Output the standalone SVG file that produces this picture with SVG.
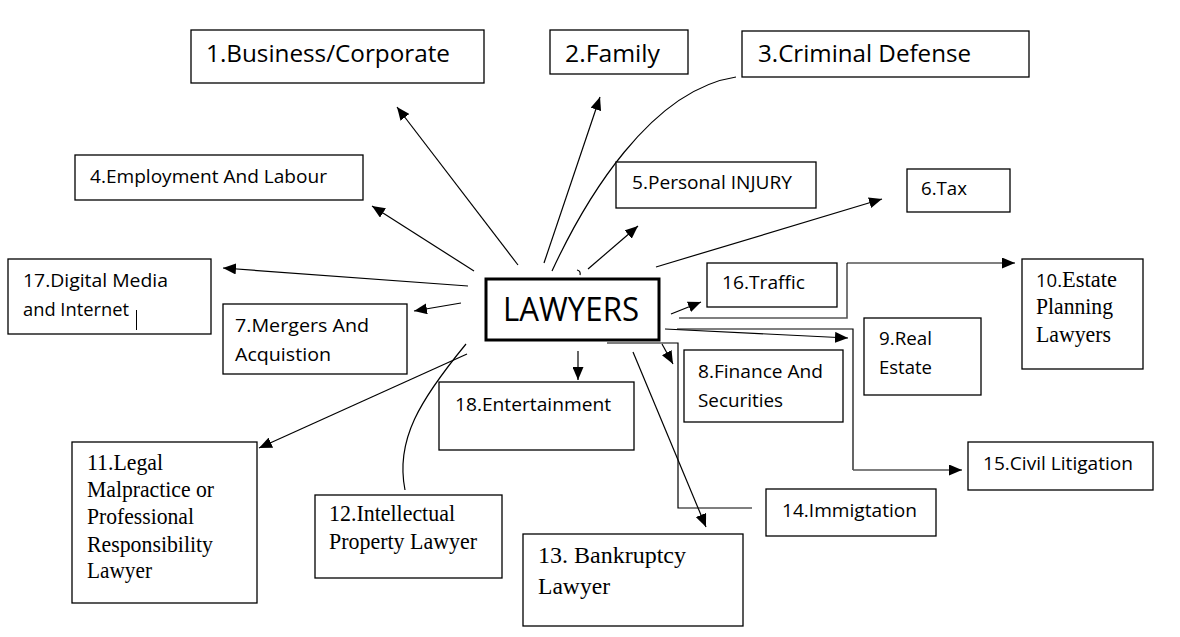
<svg xmlns="http://www.w3.org/2000/svg" width="1180" height="637" viewBox="0 0 1180 637">
<style>
.box{fill:#fff;stroke:#000;stroke-width:1.3}
.t{font-family:"Open Sans","Liberation Sans",sans-serif;font-size:19px;fill:#000}
.tl{font-family:"Open Sans","Liberation Sans",sans-serif;font-size:23px;fill:#000}
.s{font-family:"Liberation Serif","Times New Roman",serif;font-size:23px;fill:#000}
.c{fill:none;stroke:#000;stroke-width:1.2}
.g{fill:none;stroke:#555;stroke-width:1.6}
</style>
<defs>
<marker id="ah" markerUnits="userSpaceOnUse" markerWidth="13" markerHeight="11" refX="13" refY="5.5" orient="auto">
<path d="M0,0 L13,5.5 L0,11 z" fill="#000"/>
</marker>
</defs>
<rect width="1180" height="637" fill="#fff"/>
<g id="connectors">
<line class="c" x1="518" y1="265" x2="397" y2="107" marker-end="url(#ah)"/>
<line class="c" x1="544" y1="263" x2="600" y2="97" marker-end="url(#ah)"/>
<path class="c" d="M552,271 C585,200 650,90 736,77"/>
<line class="c" x1="588" y1="269" x2="638" y2="226" marker-end="url(#ah)"/>
<path class="c" d="M577,270 Q581,271 580,275"/>
<line class="c" x1="656" y1="267" x2="882" y2="199" marker-end="url(#ah)"/>
<line class="c" x1="474" y1="271" x2="372" y2="206" marker-end="url(#ah)"/>
<line class="c" x1="468" y1="286" x2="223" y2="268" marker-end="url(#ah)"/>
<line class="c" x1="461" y1="303" x2="414" y2="311" marker-end="url(#ah)"/>
<line class="c" x1="467" y1="354" x2="259" y2="448" marker-end="url(#ah)"/>
<path class="c" d="M466,344 C420,400 395,440 405,490"/>
<line class="c" x1="578" y1="351" x2="578" y2="380" marker-end="url(#ah)"/>
<line class="c" x1="662" y1="344" x2="673" y2="364" marker-end="url(#ah)"/>
<line class="c" x1="633" y1="352" x2="706" y2="527" marker-end="url(#ah)"/>
<polyline class="c" points="607,343 678,343 678,508 752,508"/>
<line class="c" x1="671" y1="314" x2="701" y2="302" marker-end="url(#ah)"/>
<polyline class="g" points="679,318 847,318 847,263"/>
<line class="c" x1="847" y1="263" x2="1015" y2="263" marker-end="url(#ah)"/>
<line class="c" x1="665" y1="329" x2="848" y2="338" marker-end="url(#ah)"/>
<polyline class="c" points="677,329 853,329 853,470"/>
<line class="g" x1="853" y1="470" x2="962" y2="470" marker-end="url(#ah)"/>
</g>
<g id="n1"><rect class="box" x="191" y="30" width="293" height="53"/><text class="tl" x="206" y="62" textLength="244" lengthAdjust="spacingAndGlyphs">1.Business/Corporate</text></g>
<g id="n2"><rect class="box" x="550" y="30" width="138" height="44"/><text class="tl" x="565" y="62" textLength="95" lengthAdjust="spacingAndGlyphs">2.Family</text></g>
<g id="n3"><rect class="box" x="742" y="31" width="287" height="46"/><text class="tl" x="758" y="62" textLength="213" lengthAdjust="spacingAndGlyphs">3.Criminal Defense</text></g>
<g id="n4"><rect class="box" x="75" y="155" width="288" height="45"/><text class="t" x="90" y="183" textLength="237" lengthAdjust="spacingAndGlyphs">4.Employment And Labour</text></g>
<g id="n5"><rect class="box" x="616" y="162" width="200" height="46"/><text class="t" x="632" y="189" textLength="160" lengthAdjust="spacingAndGlyphs">5.Personal INJURY</text></g>
<g id="n6"><rect class="box" x="907" y="169" width="103" height="43"/><text class="t" x="921" y="195" textLength="46" lengthAdjust="spacingAndGlyphs">6.Tax</text></g>
<g id="n17"><rect class="box" x="8" y="259" width="203" height="75"/><text class="t" x="23" y="287" textLength="145" lengthAdjust="spacingAndGlyphs">17.Digital Media</text><text class="t" x="23" y="316" textLength="106" lengthAdjust="spacingAndGlyphs">and Internet</text><line x1="136.5" y1="310" x2="136.5" y2="330" stroke="#000" stroke-width="1"/></g>
<g id="n7"><rect class="box" x="223" y="304" width="184" height="70"/><text class="t" x="235" y="332" textLength="134" lengthAdjust="spacingAndGlyphs">7.Mergers And</text><text class="t" x="235" y="361" textLength="96" lengthAdjust="spacingAndGlyphs">Acquistion</text></g>
<g id="lawyers"><rect x="486" y="279" width="173" height="61" fill="#fff" stroke="#000" stroke-width="3"/><text x="503" y="321" font-family="'Open Sans','Liberation Sans',sans-serif" font-size="33" textLength="136" lengthAdjust="spacingAndGlyphs">LAWYERS</text></g>
<g id="n16"><rect class="box" x="707" y="263" width="130" height="44"/><text class="t" x="722" y="289" textLength="83" lengthAdjust="spacingAndGlyphs">16.Traffic</text></g>
<g id="n10"><rect class="box" x="1022" y="259" width="121" height="110"/><text class="s" x="1036" y="287" textLength="81" lengthAdjust="spacingAndGlyphs"><tspan font-family="'Open Sans','Liberation Sans',sans-serif" font-size="19">10.</tspan>Estate</text><text class="s" x="1036" y="314" textLength="77" lengthAdjust="spacingAndGlyphs">Planning</text><text class="s" x="1036" y="342" textLength="75" lengthAdjust="spacingAndGlyphs">Lawyers</text></g>
<g id="n9"><rect class="box" x="864" y="318" width="117" height="77"/><text class="t" x="879" y="345" textLength="53" lengthAdjust="spacingAndGlyphs">9.Real</text><text class="t" x="879" y="374" textLength="53" lengthAdjust="spacingAndGlyphs">Estate</text></g>
<g id="n8"><rect class="box" x="684" y="350" width="159" height="72"/><text class="t" x="698" y="378" textLength="125" lengthAdjust="spacingAndGlyphs">8.Finance And</text><text class="t" x="698" y="407" textLength="85" lengthAdjust="spacingAndGlyphs">Securities</text></g>
<g id="n18"><rect class="box" x="439" y="382" width="195" height="68"/><text class="t" x="455" y="411" textLength="156" lengthAdjust="spacingAndGlyphs">18.Entertainment</text></g>
<g id="n15"><rect class="box" x="968" y="442" width="185" height="48"/><text class="t" x="983" y="470" textLength="150" lengthAdjust="spacingAndGlyphs">15.Civil Litigation</text></g>
<g id="n11"><rect class="box" x="72" y="442" width="185" height="161"/><text class="s" x="87" y="470" textLength="76" lengthAdjust="spacingAndGlyphs">11.Legal</text><text class="s" x="87" y="497" textLength="127" lengthAdjust="spacingAndGlyphs">Malpractice or</text><text class="s" x="87" y="524" textLength="107" lengthAdjust="spacingAndGlyphs">Professional</text><text class="s" x="87" y="552" textLength="126" lengthAdjust="spacingAndGlyphs">Responsibility</text><text class="s" x="87" y="578" textLength="65" lengthAdjust="spacingAndGlyphs">Lawyer</text></g>
<g id="n12"><rect class="box" x="315" y="495" width="187" height="83"/><text class="s" x="329" y="521" textLength="126" lengthAdjust="spacingAndGlyphs">12.Intellectual</text><text class="s" x="329" y="549" textLength="148" lengthAdjust="spacingAndGlyphs">Property Lawyer</text></g>
<g id="n14"><rect class="box" x="766" y="489" width="170" height="47"/><text class="t" x="782" y="517" textLength="135" lengthAdjust="spacingAndGlyphs">14.Immigtation</text></g>
<g id="n13"><rect class="box" x="523" y="534" width="220" height="92"/><text class="s" x="538" y="563" textLength="148" lengthAdjust="spacingAndGlyphs">13. Bankruptcy</text><text class="s" x="538" y="594" textLength="72" lengthAdjust="spacingAndGlyphs">Lawyer</text></g>
</svg>
